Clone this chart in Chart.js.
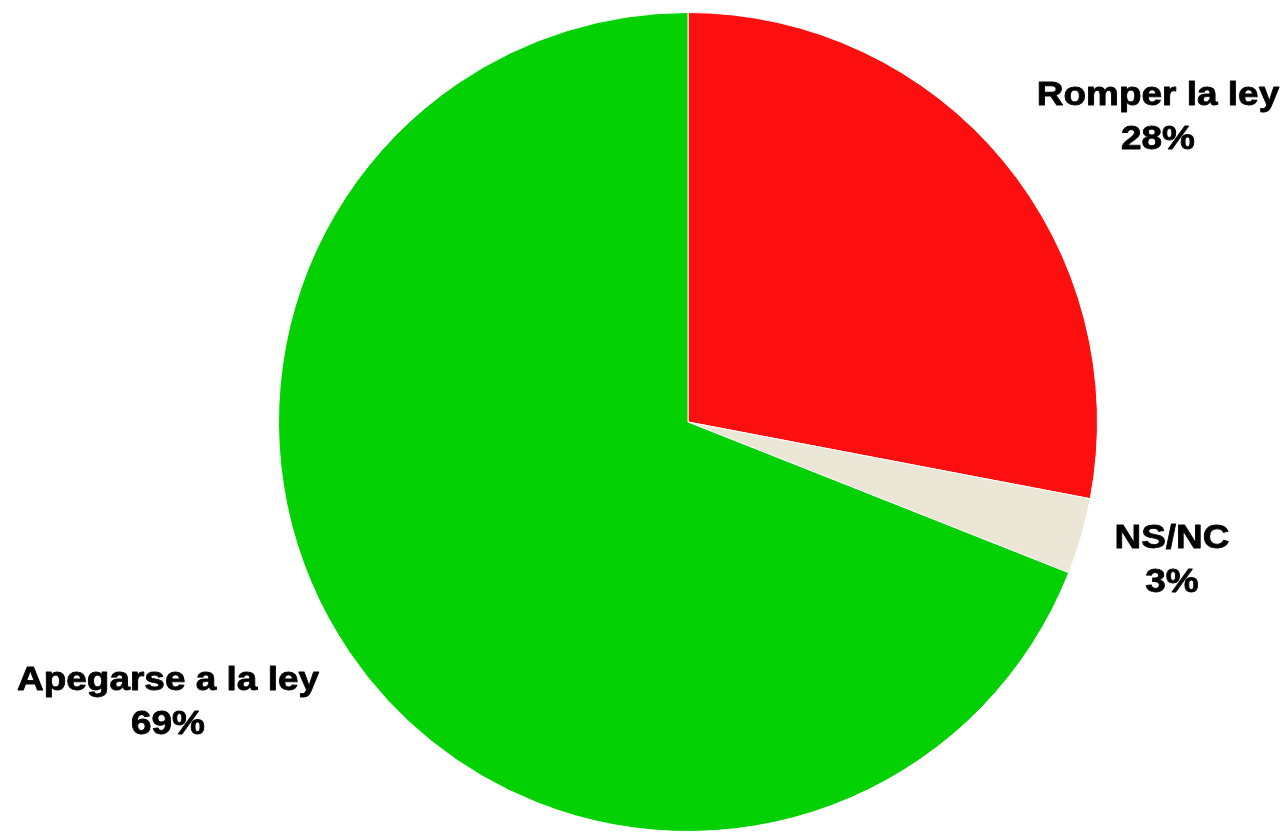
<!DOCTYPE html>
<html>
<head>
<meta charset="utf-8">
<script src="https://cdn.jsdelivr.net/npm/chart.js@4/dist/chart.umd.min.js"></script>
<style>
html,body{margin:0;padding:0;background:#fff;overflow:hidden;}
#wrap{width:1287px;height:832px;position:relative;}
</style>
</head>
<body>
<div id="wrap"><canvas id="c" width="1287" height="832"></canvas></div>
<script>
const categories = ["Romper la ley", "NS/NC", "Apegarse a la ley"];
const values = [28, 3, 69];
const valueLabels = ["28%", "3%", "69%"];
const colors = ["#fe0f0f", "#ebe6d6", "#03d103"];

const labelPos = [
  {x: 1158, y: 105},
  {x: 1172, y: 548},
  {x: 168, y: 690}
];

const labelPlugin = {
  id: 'sliceLabels',
  afterDraw(chart) {
    const ctx = chart.ctx;
    ctx.save();
    ctx.fillStyle = '#000';
    ctx.strokeStyle = '#000';
    ctx.lineWidth = 0.8;
    ctx.lineJoin = 'round';
    ctx.font = 'bold 33px "Liberation Sans", Arial, sans-serif';
    ctx.textAlign = 'center';
    ctx.textBaseline = 'alphabetic';
    const sx = 1.12;
    categories.forEach((cat, i) => {
      const p = labelPos[i];
      ctx.save();
      ctx.translate(p.x, p.y);
      ctx.scale(sx, 1);
      ctx.fillText(cat, 0, 0);
      ctx.strokeText(cat, 0, 0);
      ctx.fillText(valueLabels[i], 0, 44);
      ctx.strokeText(valueLabels[i], 0, 44);
      ctx.restore();
    });
    ctx.restore();
  }
};

new Chart(document.getElementById('c'), {
  type: 'pie',
  data: {
    labels: categories,
    datasets: [{
      data: values,
      backgroundColor: colors,
      borderColor: '#ffffff',
      borderWidth: 1
    }]
  },
  options: {
    responsive: false,
    animation: false,
    layout: {padding: {left: 278, right: 189, top: 12, bottom: 0}},
    plugins: {legend: {display: false}, tooltip: {enabled: false}}
  },
  plugins: [labelPlugin]
});
</script>
</body>
</html>
